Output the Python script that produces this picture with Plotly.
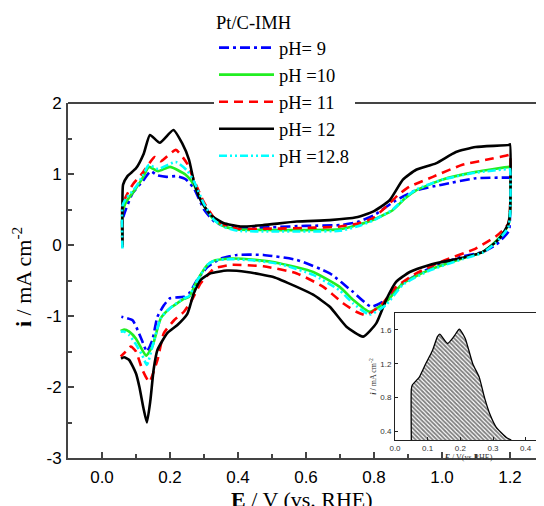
import plotly.graph_objects as go

# ---------------- data (E in V vs RHE, i in mA cm^-2) ----------------
series_names = ["pH= 9", "pH =10", "pH= 11", "pH= 12", "pH =12.8"]

E_ph9 = [0.06, 0.06, 0.07, 0.09, 0.12, 0.143, 0.163, 0.19, 0.22, 0.245, 0.27, 0.3, 0.33, 0.36, 0.4, 0.5, 0.6, 0.7, 0.75, 0.8, 0.865, 0.924, 1.0, 1.1, 1.197, 1.2,
         1.2, 1.197, 1.18, 1.158, 1.119, 1.06, 0.963, 0.885, 0.836, 0.792, 0.738, 0.67, 0.573, 0.475, 0.397, 0.35, 0.31, 0.28, 0.256, 0.241, 0.2, 0.182, 0.163, 0.148, 0.132, 0.118, 0.105, 0.09, 0.057]
I_ph9 = [0.1, 0.35, 0.5, 0.73, 0.9, 1.04, 0.98, 0.96, 0.97, 0.93, 0.8, 0.5, 0.33, 0.27, 0.24, 0.25, 0.27, 0.28, 0.32, 0.42, 0.63, 0.77, 0.85, 0.94, 0.95, 0.95,
         0.4, 0.2, 0.1, 0.0, -0.1, -0.16, -0.33, -0.54, -0.77, -0.87, -0.66, -0.40, -0.21, -0.14, -0.14, -0.19, -0.31, -0.49, -0.68, -0.73, -0.75, -0.85, -1.01, -1.34, -1.5, -1.35, -1.2, -1.06, -1.01]

E_ph10 = [0.06, 0.06, 0.07, 0.1, 0.12, 0.138, 0.165, 0.2, 0.246, 0.27, 0.3, 0.33, 0.36, 0.4, 0.5, 0.6, 0.7, 0.75, 0.8, 0.855, 0.89, 0.924, 1.0, 1.1, 1.197, 1.2,
          1.2, 1.195, 1.177, 1.158, 1.119, 1.06, 0.963, 0.885, 0.836, 0.787, 0.738, 0.699, 0.621, 0.524, 0.45, 0.378, 0.33, 0.31, 0.28, 0.256, 0.241, 0.2, 0.173, 0.148, 0.13, 0.115, 0.1, 0.08, 0.065, 0.055]
I_ph10 = [0.0, 0.45, 0.6, 0.8, 0.95, 1.10, 1.04, 1.1, 0.99, 0.85, 0.55, 0.35, 0.26, 0.22, 0.21, 0.21, 0.22, 0.28, 0.36, 0.49, 0.65, 0.77, 0.92, 1.03, 1.1, 1.1,
          0.45, 0.28, 0.15, 0.05, -0.1, -0.19, -0.35, -0.54, -0.80, -0.94, -0.77, -0.59, -0.38, -0.26, -0.21, -0.19, -0.22, -0.28, -0.5, -0.73, -0.76, -0.89, -1.03, -1.43, -1.56, -1.45, -1.32, -1.22, -1.19, -1.21]

E_ph11 = [0.06, 0.06, 0.07, 0.09, 0.12, 0.155, 0.173, 0.217, 0.25, 0.27, 0.3, 0.33, 0.36, 0.4, 0.5, 0.6, 0.7, 0.75, 0.797, 0.836, 0.87, 0.904, 0.973, 1.06, 1.13, 1.197, 1.2,
          1.2, 1.195, 1.177, 1.158, 1.099, 1.0, 0.924, 0.865, 0.826, 0.778, 0.748, 0.709, 0.651, 0.573, 0.475, 0.378, 0.33, 0.319, 0.29, 0.265, 0.241, 0.212, 0.182, 0.163, 0.139, 0.119, 0.1, 0.085, 0.07, 0.055]
I_ph11 = [0.0, 0.55, 0.68, 0.85, 1.02, 1.24, 1.18, 1.34, 1.15, 0.92, 0.6, 0.38, 0.28, 0.23, 0.23, 0.24, 0.26, 0.3, 0.38, 0.54, 0.7, 0.82, 0.96, 1.13, 1.2, 1.27, 1.28,
          0.5, 0.3, 0.2, 0.12, -0.05, -0.23, -0.40, -0.59, -0.82, -0.99, -0.94, -0.82, -0.59, -0.40, -0.30, -0.28, -0.33, -0.38, -0.54, -0.77, -0.94, -1.06, -1.24, -1.62, -1.93, -1.76, -1.5, -1.43, -1.5, -1.57]

E_ph12 = [0.06, 0.06, 0.062, 0.075, 0.1, 0.123, 0.141, 0.17, 0.21, 0.236, 0.256, 0.27, 0.29, 0.32, 0.357, 0.407, 0.474, 0.573, 0.67, 0.748, 0.797, 0.846, 0.885, 0.924, 0.982, 1.041, 1.099, 1.197, 1.2,
          1.2, 1.195, 1.177, 1.158, 1.119, 1.06, 0.963, 0.905, 0.865, 0.836, 0.807, 0.768, 0.719, 0.67, 0.621, 0.573, 0.504, 0.426, 0.368, 0.319, 0.29, 0.27, 0.251, 0.221, 0.192, 0.163, 0.152, 0.142, 0.132, 0.122, 0.11, 0.1, 0.08, 0.065, 0.056]
I_ph12 = [-0.03, 0.5, 0.85, 0.97, 1.08, 1.29, 1.55, 1.44, 1.62, 1.43, 1.2, 0.9, 0.63, 0.42, 0.31, 0.26, 0.28, 0.33, 0.35, 0.39, 0.47, 0.63, 0.92, 1.06, 1.15, 1.31, 1.38, 1.41, 1.42,
          0.45, 0.3, 0.14, 0.04, -0.1, -0.18, -0.28, -0.38, -0.52, -0.77, -1.10, -1.29, -1.15, -0.87, -0.70, -0.59, -0.45, -0.38, -0.36, -0.40, -0.49, -0.68, -0.97, -1.13, -1.24, -1.48, -1.75, -2.2, -2.5, -2.3, -2.0, -1.81, -1.62, -1.58, -1.6]

E_ph128 = [0.06, 0.06, 0.07, 0.1, 0.12, 0.138, 0.165, 0.217, 0.25, 0.27, 0.3, 0.33, 0.36, 0.4, 0.5, 0.6, 0.7, 0.75, 0.8, 0.855, 0.89, 0.924, 1.0, 1.1, 1.197, 1.2,
           1.2, 1.195, 1.177, 1.158, 1.119, 1.06, 0.963, 0.885, 0.836, 0.787, 0.738, 0.699, 0.621, 0.524, 0.45, 0.378, 0.33, 0.31, 0.28, 0.256, 0.241, 0.2, 0.173, 0.15, 0.132, 0.118, 0.1, 0.08, 0.065, 0.055]
I_ph128 = [-0.05, 0.55, 0.65, 0.82, 0.98, 1.13, 1.07, 1.17, 1.05, 0.9, 0.58, 0.35, 0.25, 0.2, 0.19, 0.19, 0.2, 0.26, 0.35, 0.5, 0.66, 0.78, 0.92, 1.02, 1.07, 1.07,
           0.4, 0.25, 0.13, 0.03, -0.11, -0.2, -0.36, -0.56, -0.84, -0.98, -0.82, -0.64, -0.42, -0.27, -0.22, -0.2, -0.22, -0.28, -0.5, -0.72, -0.75, -0.89, -1.03, -1.4, -1.69, -1.55, -1.4, -1.27, -1.22, -1.22]

# inset: anodic H-desorption charge region
E_inset = [0.05, 0.05, 0.053, 0.074, 0.094, 0.114, 0.13, 0.137, 0.161, 0.18, 0.197, 0.215, 0.238, 0.258, 0.274, 0.29, 0.31, 0.341, 0.356]
I_inset = [0.3, 0.9, 0.95, 1.04, 1.2, 1.35, 1.52, 1.55, 1.44, 1.52, 1.61, 1.5, 1.20, 1.04, 0.80, 0.61, 0.45, 0.33, 0.3]

y_tickvals = [-3, -2, -1, 0, 1, 2]
y_ticktext = ["-3", "-2", "-1", "0", "1", "2"]
inset_ytickvals = [0.4, 0.8, 1.2, 1.6]

# ---------------- styles ----------------
colors = ["#0000FF", "#22EE22", "#FF0000", "#000000", "#00FFFF"]
dashes = ["10px,4px,3px,4px", "solid", "9px,6px", "solid", "8px,3px,2px,3px,2px,3px"]
xs = [E_ph9, E_ph10, E_ph11, E_ph12, E_ph128]
ys = [I_ph9, I_ph10, I_ph11, I_ph12, I_ph128]

SANS = "Liberation Sans, Arial, sans-serif"
SERIF = "Liberation Serif, Times New Roman, serif"

fig = go.Figure()
for name, x, y, c, d in zip(series_names, xs, ys, colors, dashes):
    fig.add_trace(go.Scatter(x=x, y=y, mode="lines", name=name,
                             line=dict(color=c, width=2.6, dash=d, shape="spline", smoothing=0.5),
                             xaxis="x", yaxis="y"))

fig.add_trace(go.Scatter(x=E_inset, y=I_inset, mode="lines", showlegend=False,
                         line=dict(color="black", width=1.3, shape="spline", smoothing=0.5),
                         fill="tozeroy", fillcolor="rgba(0,0,0,0)",
                         fillpattern=dict(shape="\\", fgcolor="black", bgcolor="white", size=3, solidity=0.6),
                         xaxis="x2", yaxis="y2"))

# page body adds an 8px offset; screen coordinates are converted below
OFF = 8
W, H = 544, 506
L, R, T, B = 60, 8, 95, 56
pw, ph = W - L - R, H - T - B
def px_x(p):
    return (p - OFF - L) / pw
def px_y(p):
    return (H - B - (p - OFF)) / ph

fig.update_layout(
    width=W, height=H,
    margin=dict(l=L, r=R, t=T, b=B, autoexpand=False),
    paper_bgcolor="white", plot_bgcolor="white",
    showlegend=True,
    legend=dict(x=px_x(214), y=px_y(5), xanchor="left", yanchor="top",
                bgcolor="white", borderwidth=0, itemwidth=55,
                font=dict(family=SERIF, size=18.5, color="black"),
                title=dict(text="Pt/C-IMH", font=dict(family=SERIF, size=18.5, color="black"), side="top"),
                tracegroupgap=0),
    xaxis=dict(domain=[0, 1], range=[-0.1, 1.3], showline=True, linecolor="#444", linewidth=2,
               ticks="inside", ticklen=6, tickwidth=1.5, tickcolor="#444",
               tick0=0, dtick=0.2, tickformat=".1f",
               minor=dict(dtick=0.1, ticks="inside", ticklen=4, tickwidth=1.5, tickcolor="#444"),
               showgrid=False, zeroline=False, ticklabelstandoff=3,
               tickfont=dict(family=SANS, size=17, color="black"),
               automargin=False),
    yaxis=dict(domain=[0, 1], range=[-3, 2], showline=True, linecolor="#444", linewidth=2,
               ticks="inside", ticklen=6, tickwidth=1.5, tickcolor="#444",
               tickvals=y_tickvals, ticktext=y_ticktext,
               minor=dict(dtick=0.5, ticks="inside", ticklen=4, tickwidth=1.5, tickcolor="#444"),
               showgrid=False, zeroline=False, ticklabelstandoff=1,
               tickfont=dict(family=SANS, size=17, color="black"),
               automargin=False),
    xaxis2=dict(domain=[px_x(395), px_x(542)], anchor="y2", range=[0, 0.45], dtick=0.1, tick0=0, tickformat=".1f",
                showline=True, mirror=True, linecolor="#222", linewidth=1,
                ticks="inside", ticklen=3, tickcolor="#222", showgrid=False, zeroline=False,
                tickfont=dict(family=SANS, size=8, color="#333"), ticklabelstandoff=0,
                title=dict(text="<b><i>E</i></b> / V(vs.RHE)", font=dict(family=SERIF, size=8, color="#333"), standoff=0)),
    yaxis2=dict(domain=[px_y(440), px_y(313)], anchor="x2", range=[0.3, 1.8], tickvals=inset_ytickvals, tickformat=".1f",
                showline=True, mirror=True, linecolor="#222", linewidth=1,
                ticks="inside", ticklen=3, tickcolor="#222", showgrid=False, zeroline=False,
                tickfont=dict(family=SANS, size=8, color="#333"), ticklabelstandoff=1,
                title=dict(text="<b><i>i</i></b> / mA cm<sup>-2</sup>", font=dict(family=SERIF, size=8, color="#333"), standoff=2)),
    shapes=[dict(type="line", xref="paper", yref="paper", x0=0, x1=1, y0=1, y1=1,
                 line=dict(color="#444", width=2), layer="below")],
    annotations=[
        dict(text="<b>E</b> / V (vs. RHE)", xref="paper", yref="paper", x=px_x(302), y=0,
             xanchor="center", yanchor="top", yshift=-27, showarrow=False,
             font=dict(family=SERIF, size=22, color="black")),
        dict(text="<b>i</b> / mA cm<sup>-2</sup>", xref="paper", yref="paper", x=0, y=px_y(277),
             xanchor="center", yanchor="middle", xshift=-(68 - 22), textangle=-90, showarrow=False,
             font=dict(family=SERIF, size=22, color="black")),
    ],
)

fig.write_html("out.html")
